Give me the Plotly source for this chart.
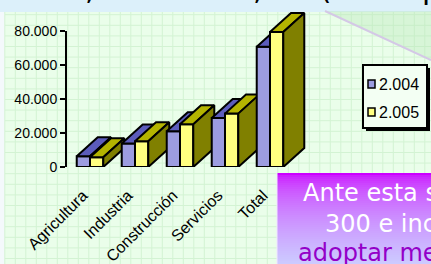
import plotly.graph_objects as go

# ---------------- data ----------------
categories = ["Agricultura", "Industria", "Construcción", "Servicios", "Total"]
values_2004 = [6300, 13800, 21000, 28800, 70700]
values_2005 = [5800, 15200, 25100, 31400, 79400]
series_names = ["2.004", "2.005"]
y_tick_values = [0, 20000, 40000, 60000, 80000]

# ---------------- geometry / style ----------------
W, H = 431, 264
L, R, T, B = 66, 111, 12, 97
PW, PH = W - L - R, H - T - B
Y_TOP_TICK_PX = 31
px_per_unit_y = (H - B - Y_TOP_TICK_PX) / y_tick_values[-1]
YMAX = PH / px_per_unit_y
CAT_PX = 45
X_CENTER0 = 90
xmin = (L - X_CENTER0) / CAT_PX
xmax = (W - R - X_CENTER0) / CAT_PX
BAR_W = 0.295
DX = 21 / CAT_PX
DY = 19 / px_per_unit_y
LABEL_SHIFT = 7 / CAT_PX

front_col = ["#9c9ce0", "#ffff80"]
top_col = ["#5c5cbc", "#b4b400"]
side_col = ["#4a4a9a", "#808000"]


def fx(px):
    return (px - L) / PW


def fy(py):
    return (H - B - py) / PH


fig = go.Figure()

series = [values_2004, values_2005]


def face(xs, ys, col):
    fig.add_trace(go.Scatter(x=xs, y=ys, mode="lines", fill="toself", fillcolor=col,
                             line=dict(color="black", width=2), hoverinfo="skip",
                             showlegend=False))


for i, cat in enumerate(categories):
    for s, vals in enumerate(series):
        h = vals[i]
        x0 = i - BAR_W + s * BAR_W
        x1 = x0 + BAR_W
        face([x0, x1, x1, x0, x0], [0, 0, h, h, 0], front_col[s])
        face([x0, x1, x1 + DX, x0 + DX, x0], [h, h, h + DY, h + DY, h], top_col[s])
        face([x1, x1 + DX, x1 + DX, x1, x1], [0, DY, h + DY, h, 0], side_col[s])

shapes = []
# top strip and left strip
shapes.append(dict(type="rect", xref="paper", yref="paper", x0=fx(0), x1=fx(W), y0=fy(0), y1=fy(12),
                   fillcolor="#dcf0fa", line=dict(width=0), layer="below"))
shapes.append(dict(type="rect", xref="paper", yref="paper", x0=fx(0), x1=fx(5), y0=fy(12), y1=fy(H),
                   fillcolor="#f4f9fc", line=dict(width=0), layer="below"))
# grid
gx = 4.8
while gx < W:
    shapes.append(dict(type="line", xref="paper", yref="paper", x0=fx(gx), x1=fx(gx), y0=fy(12), y1=fy(H),
                       line=dict(color="#d3f3d3", width=1), layer="below"))
    gx += 10.5
gy = 184.3
while gy > 12:
    gy -= 10.6
gy += 10.6
while gy < H:
    shapes.append(dict(type="line", xref="paper", yref="paper", x0=fx(5), x1=fx(W), y0=fy(gy), y1=fy(gy),
                       line=dict(color="#d3f3d3", width=1), layer="below"))
    gy += 10.6
# callout triangle
shapes.append(dict(type="path", xref="paper", yref="paper",
                   path=f"M {fx(325)},{fy(11)} L {fx(W)},{fy(11)} L {fx(W)},{fy(60)} Z",
                   fillcolor="rgba(180,230,180,0.35)", line=dict(width=0), layer="below"))
shapes.append(dict(type="line", xref="paper", yref="paper", x0=fx(325), y0=fy(11), x1=fx(W), y1=fy(60),
                   line=dict(color="#d4c8e6", width=2), layer="below"))
# y axis line (0 .. 80000)
shapes.append(dict(type="line", xref="paper", yref="y", x0=0, x1=0, y0=0, y1=y_tick_values[-1],
                   line=dict(color="black", width=2)))
# purple box gradient
top_c = (204, 0, 255)
bot_c = (204, 204, 255)
py = 173
while py < H:
    t = (py - 173) / (H - 173)
    f = t ** 0.5
    c = tuple(int(round(a + (b - a) * f)) for a, b in zip(top_c, bot_c))
    shapes.append(dict(type="rect", xref="paper", yref="paper", x0=fx(277), x1=fx(W + 2),
                       y0=fy(py + 2.2), y1=fy(py), fillcolor=f"rgb{c}", line=dict(width=0), layer="above"))
    py += 2
shapes.append(dict(type="line", xref="paper", yref="paper", x0=fx(277), x1=fx(277), y0=fy(173), y1=fy(H),
                   line=dict(color="#f0e8ff", width=1), layer="above"))
# legend box
shapes.append(dict(type="rect", xref="paper", yref="paper", x0=fx(366), x1=fx(430), y0=fy(131), y1=fy(68),
                   fillcolor="black", line=dict(width=0), layer="above"))
shapes.append(dict(type="rect", xref="paper", yref="paper", x0=fx(363), x1=fx(427), y0=fy(128), y1=fy(65),
                   fillcolor="#f3fff3", line=dict(color="black", width=2), layer="above"))
legend_rows = [84, 112]
annotations = []
for k, name in enumerate(series_names):
    cy = legend_rows[k]
    shapes.append(dict(type="rect", xref="paper", yref="paper", x0=fx(368), x1=fx(375),
                       y0=fy(cy + 4), y1=fy(cy - 4), fillcolor=front_col[k],
                       line=dict(color="black", width=1.5), layer="above"))
    annotations.append(dict(text=name, xref="paper", yref="paper", x=fx(377), y=fy(cy),
                            xanchor="left", yanchor="middle", showarrow=False,
                            font=dict(family="Liberation Sans", size=16, color="black")))

# slide texts
annotations.append(dict(text="resto, con un 30,0% (se ha pasado de", xref="paper", yref="paper",
                        x=fx(7), y=fy(-11), xanchor="left", yanchor="middle", showarrow=False,
                        font=dict(family="DejaVu Sans", size=30, color="black")))
annotations.append(dict(text="Ante esta situación", xref="paper", yref="paper",
                        x=fx(301), y=fy(193), xanchor="left", yanchor="middle", showarrow=False,
                        font=dict(family="DejaVu Sans", size=24, color="white")))
annotations.append(dict(text="300 e incentivos", xref="paper", yref="paper",
                        x=fx(323), y=fy(224), xanchor="left", yanchor="middle", showarrow=False,
                        font=dict(family="DejaVu Sans", size=24, color="white")))
annotations.append(dict(text="adoptar medidas", xref="paper", yref="paper",
                        x=fx(296), y=fy(253), xanchor="left", yanchor="middle", showarrow=False,
                        font=dict(family="DejaVu Sans", size=24, color="#9400c8")))

fig.update_layout(
    width=W, height=H,
    margin=dict(l=L, r=R, t=T, b=B, pad=0, autoexpand=False),
    paper_bgcolor="#eafeea",
    plot_bgcolor="rgba(0,0,0,0)",
    separators=",.",
    showlegend=False,
    shapes=shapes,
    annotations=annotations,
    xaxis=dict(range=[xmin, xmax], tickvals=[i - LABEL_SHIFT for i in range(len(categories))],
               ticktext=categories, automargin=False,
               tickangle=-45, showline=False, showgrid=False, zeroline=False, ticks="",
               ticklabelstandoff=15,
               tickfont=dict(family="Liberation Sans", size=16, color="black")),
    yaxis=dict(range=[0, YMAX], tickvals=y_tick_values, tickformat=",d", showline=False,
               automargin=False,
               showgrid=False, zeroline=False, ticks="outside", ticklen=5, tickwidth=2,
               tickcolor="black",
               tickfont=dict(family="Liberation Sans", size=14, color="black")),
)

fig.write_html("out.html", config={"displayModeBar": False},
               post_script="document.body.style.margin='0';document.body.style.overflow='hidden';")
